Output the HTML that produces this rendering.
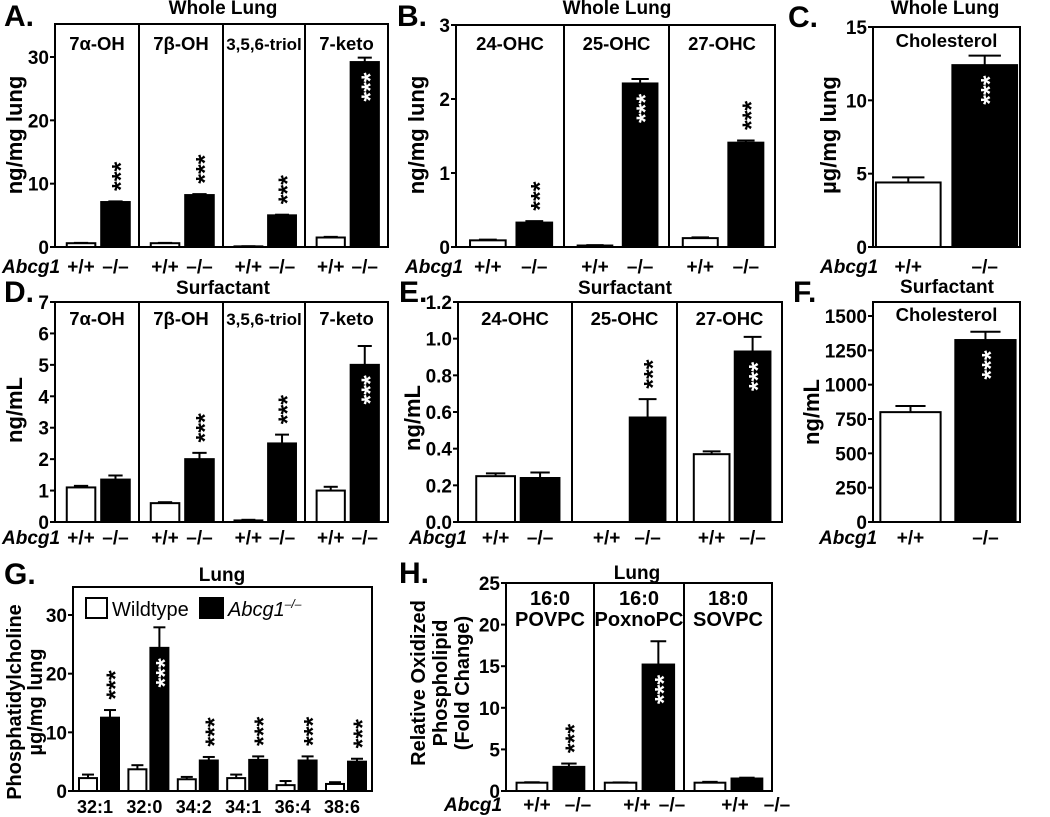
<!DOCTYPE html>
<html><head><meta charset="utf-8">
<style>
html,body{margin:0;padding:0;background:#fff;}
svg{display:block;font-family:"Liberation Sans",Arial,sans-serif;}
</style></head>
<body>
<svg id="fig" width="1050" height="817" viewBox="0 0 1050 817" xmlns="http://www.w3.org/2000/svg"></svg>
<script>
// ---------- DATA ----------
const aCats=['7α-OH','7β-OH','3,5,6-triol','7-keto'];
const aWT=[0.6,0.6,0.1,1.5];
const aWTerr=[0.05,0.05,0.02,0.1];
const aKO=[7.1,8.2,5.0,29.2];
const aKOerr=[0.1,0.15,0.1,0.7];
const aStars=['above','above','above','inside'];
const aTicks=[0,10,20,30];

const bCats=['24-OHC','25-OHC','27-OHC'];
const bWT=[0.09,0.02,0.12];
const bWTerr=[0.01,0.005,0.01];
const bKO=[0.33,2.21,1.41];
const bKOerr=[0.02,0.06,0.03];
const bStars=['above','inside','above'];
const bTicks=[0,1,2,3];

const cCats=['Cholesterol'];
const cWT=[4.4];
const cWTerr=[0.35];
const cKO=[12.4];
const cKOerr=[0.65];
const cStars=['inside'];
const cTicks=[0,5,10,15];

const dCats=['7α-OH','7β-OH','3,5,6-triol','7-keto'];
const dWT=[1.1,0.6,0.05,1.0];
const dWTerr=[0.05,0.03,0.02,0.12];
const dKO=[1.35,2.0,2.5,5.0];
const dKOerr=[0.13,0.2,0.28,0.6];
const dStars=['none','above','above','inside'];
const dTicks=[0,1,2,3,4,5,6,7];

const eCats=['24-OHC','25-OHC','27-OHC'];
const eWT=[0.25,null,0.37];
const eWTerr=[0.015,0,0.015];
const eKO=[0.24,0.57,0.93];
const eKOerr=[0.03,0.1,0.08];
const eStars=['none','above','inside'];
const eTicks=[0,0.2,0.4,0.6,0.8,1.0,1.2];
const eTickLabels=['0.0','0.2','0.4','0.6','0.8','1.0','1.2'];

const fCats=['Cholesterol'];
const fWT=[800];
const fWTerr=[45];
const fKO=[1325];
const fKOerr=[60];
const fStars=['inside'];
const fTicks=[0,250,500,750,1000,1250,1500];

const gCats=['32:1','32:0','34:2','34:1','36:4','38:6'];
const gWT=[2.2,3.7,2.0,2.2,1.0,1.2];
const gWTerr=[0.6,0.7,0.4,0.6,0.7,0.3];
const gKO=[12.5,24.4,5.2,5.3,5.2,5.0];
const gKOerr=[1.3,3.5,0.6,0.6,0.7,0.5];
const gStars=['above','inside','above','above','above','above'];
const gTicks=[0,10,20,30];

const hCats1=['16:0','16:0','18:0'];
const hCats2=['POVPC','PoxnoPC','SOVPC'];
const hWT=[1.0,1.0,1.0];
const hWTerr=[0.05,0.03,0.1];
const hKO=[2.9,15.2,1.5];
const hKOerr=[0.4,2.8,0.1];
const hStars=['above','inside','none'];
const hTicks=[0,5,10,15,20,25];

// ---------- DRAWING ----------
const NS='http://www.w3.org/2000/svg';
const svg=document.getElementById('fig');
function mk(tag,attrs,parent,txt){
  const e=document.createElementNS(NS,tag);
  for(const k in attrs)e.setAttribute(k,attrs[k]);
  if(txt!==undefined)e.textContent=txt;
  (parent||svg).appendChild(e);return e;
}
function txt(x,y,s,size,opts,name,parent){
  opts=opts||{};
  const e=mk('text',{x:x,y:y,'font-size':size,'font-weight':opts.weight||'bold','text-anchor':opts.anchor||'middle',fill:opts.fill||'#000'},parent,s);
  if(opts.italic)e.setAttribute('font-style','italic');
  if(opts.rot)e.setAttribute('transform','rotate(-90 '+x+' '+y+')');
  
  
  return e;
}
function stars(cx,cy,fill,parent){
  const g=mk('g',{transform:'translate('+cx+' '+cy+') rotate(-90)'},parent);
  
  
  mk('text',{x:0,y:14,'font-size':25,'font-weight':'bold','text-anchor':'middle',fill:fill},g,'***');
}

function panel(p){
  const g=mk('g',{});
  
  
  const ax=p.edges[0], right=p.edges[p.edges.length-1];
  const y=v=>p.zeroY-v*(p.zeroY-p.topY)/p.topVal;
  txt(p.letterX,p.letterY,p.letter,30,{anchor:'start'},'panel-letter',g);
  txt(p.titleX,p.titleY,p.title,19,{},'panel-title',g);
  const box=mk('rect',{x:ax,y:p.topY,width:right-ax,height:p.zeroY-p.topY,fill:'none',stroke:'#000','stroke-width':2},g);
  
  
  for(let i=1;i<p.edges.length-1;i++){
    const l=mk('line',{x1:p.edges[i],x2:p.edges[i],y1:p.topY,y2:p.zeroY,stroke:'#000','stroke-width':2},g);
    
    
  }
  p.ticks.forEach((t,i)=>{
    const ty=y(t);
    const l=mk('line',{x1:ax-5,x2:ax,y1:ty,y2:ty,stroke:'#000','stroke-width':2},g);
    
    
    txt(ax-6,ty+7,p.tickLabels?p.tickLabels[i]:String(t),19,{anchor:'end'},'y-tick-label',g);
  });
  p.yTitle.forEach((s,i)=>txt(p.yTitleX[i],p.yTitleY,s,p.yTitleSize||22,{rot:true},'y-axis-title',g));
  p.cats.forEach((c,i)=>{
    const s0=p.edges[i],W=p.edges[i+1]-s0;
    if(p.catY2){
      txt(s0+W/2,p.catY,c,20,{},'section-label',g);
      txt(s0+W/2,p.catY2,p.cats2[i],20,{},'section-label',g);
    } else txt(s0+W/2,p.catY,c,c.indexOf('triol')>=0?17:18.5,{},'section-label',g);
    const defs=[[p.wt,p.wtErr,p.wOff,'#fff','wildtype'],[p.ko,p.koErr,p.kOff,'#000','knockout']];
    defs.forEach((d,j)=>{
      const v=d[0][i];
      const bx=s0+d[2]*W, bw=p.bw*W, cx=bx+bw/2;
      if(v!==null){
        const top=y(v);
        const r=mk('rect',{x:bx,y:top,width:bw,height:p.zeroY-top,fill:d[3],stroke:'#000','stroke-width':2},g);
        
        
        const et=y(v+d[1][i]);
        if(d[1][i]>0){
          const e1=mk('line',{x1:cx,x2:cx,y1:top,y2:et,stroke:'#000','stroke-width':2},g);
          
          
          const e2=mk('line',{x1:cx-bw*0.25,x2:cx+bw*0.25,y1:et,y2:et,stroke:'#000','stroke-width':2},g);
          
          
        }
        if(j===1){
          if(p.stars[i]==='above')stars(cx,et-25,'#000',g);
          else if(p.stars[i]==='inside')stars(cx,top+25,'#fff',g);
        }
      }
      if(p.genoY){
        const lx=p.genoX?p.genoX[i*2+j]:cx;
        txt(lx,p.genoY,j===0?'+/+':'–/–',19,{},'genotype-label',g);
      }
    });
  });
  if(p.genoY)txt(p.abcgX,p.genoY,'Abcg1',19,{anchor:'start',italic:true},'genotype-row-label',g);
}

panel({name:'panel-a',letter:'A.',letterX:4,letterY:26,title:'Whole Lung',titleX:223,titleY:14,
  edges:[55,139,223,305,388],topY:24,zeroY:247,topVal:223/(190/30),ticks:aTicks,
  yTitle:['ng/mg lung'],yTitleX:[22],yTitleY:135,cats:aCats,catY:50,
  wt:aWT,wtErr:aWTerr,ko:aKO,koErr:aKOerr,stars:aStars,wOff:0.14,kOff:0.55,bw:0.34,genoY:273,abcgX:2});
panel({name:'panel-b',letter:'B.',letterX:397,letterY:26,title:'Whole Lung',titleX:617,titleY:14,
  edges:[456,564,669,775],topY:25,zeroY:247,topVal:3,ticks:bTicks,
  yTitle:['ng/mg lung'],yTitleX:[424],yTitleY:135,cats:bCats,catY:50,
  wt:bWT,wtErr:bWTerr,ko:bKO,koErr:bKOerr,stars:bStars,wOff:0.13,kOff:0.56,bw:0.33,genoY:273,abcgX:405});
panel({name:'panel-c',letter:'C.',letterX:788,letterY:27,title:'Whole Lung',titleX:945,titleY:14,
  edges:[873,1020],topY:27,zeroY:247,topVal:15,ticks:cTicks,
  yTitle:['µg/mg lung'],yTitleX:[836],yTitleY:135,cats:cCats,catY:47,
  wt:cWT,wtErr:cWTerr,ko:cKO,koErr:cKOerr,stars:cStars,wOff:0.02,kOff:0.54,bw:0.44,genoY:273,abcgX:820});
panel({name:'panel-d',letter:'D.',letterX:4,letterY:302,title:'Surfactant',titleX:223,titleY:294,
  edges:[55,139,223,305,388],topY:302,zeroY:522,topVal:7,ticks:dTicks,
  yTitle:['ng/mL'],yTitleX:[22],yTitleY:410,cats:dCats,catY:325,
  wt:dWT,wtErr:dWTerr,ko:dKO,koErr:dKOerr,stars:dStars,wOff:0.14,kOff:0.55,bw:0.34,genoY:544,abcgX:2});
panel({name:'panel-e',letter:'E.',letterX:399,letterY:302,title:'Surfactant',titleX:625,titleY:294,
  edges:[458,572,677,782],topY:302,zeroY:522,topVal:1.2,ticks:eTicks,tickLabels:eTickLabels,
  yTitle:['ng/mL'],yTitleX:[420],yTitleY:418,cats:eCats,catY:325,
  wt:eWT,wtErr:eWTerr,ko:eKO,koErr:eKOerr,stars:eStars,wOff:0.16,kOff:0.55,bw:0.34,genoY:544,abcgX:409});
panel({name:'panel-f',letter:'F.',letterX:793,letterY:302,title:'Surfactant',titleX:947,titleY:293,
  edges:[873,1020],topY:302,zeroY:522,topVal:220/(206/1500),ticks:fTicks,
  yTitle:['ng/mL'],yTitleX:[819],yTitleY:412,cats:fCats,catY:321,
  wt:fWT,wtErr:fWTerr,ko:fKO,koErr:fKOerr,stars:fStars,wOff:0.05,kOff:0.56,bw:0.41,genoY:544,abcgX:819});
panel({name:'panel-h',letter:'H.',letterX:399,letterY:583,title:'Lung',titleX:637,titleY:579,
  edges:[506,594,684,772],topY:583,zeroY:791,topVal:25,ticks:hTicks,yTitleSize:20,
  yTitle:['Relative Oxidized','Phospholipid','(Fold Change)'],yTitleX:[425,447,469],yTitleY:683,
  cats:hCats1,cats2:hCats2,catY:605,catY2:626,
  wt:hWT,wtErr:hWTerr,ko:hKO,koErr:hKOerr,stars:hStars,wOff:0.12,kOff:0.54,bw:0.35,genoY:811,abcgX:444,
  genoX:[537,578,637,672,735,777]});

// ---------- Panel G ----------
(function(){
  const g=mk('g',{});
  
  
  const ax=73,right=372,topY=587,zeroY=791,pu=176/30;
  const y=v=>zeroY-v*pu;
  const x0=99,step=49.4,bw=18;
  txt(4,584,'G.',30,{anchor:'start'},'panel-letter',g);
  txt(222,581,'Lung',19,{},'panel-title',g);
  const box=mk('rect',{x:ax,y:topY,width:right-ax,height:zeroY-topY,fill:'none',stroke:'#000','stroke-width':2},g);
  
  
  gTicks.forEach(t=>{
    const ty=y(t);
    const l=mk('line',{x1:ax-5,x2:ax,y1:ty,y2:ty,stroke:'#000','stroke-width':2},g);
    
    
    txt(ax-6,ty+7,String(t),19,{anchor:'end'},'y-tick-label',g);
  });
  txt(21,702,'Phosphatidylcholine',20,{rot:true},'y-axis-title',g);
  txt(42,702,'µg/mg lung',20,{rot:true},'y-axis-title',g);
  gCats.forEach((c,i)=>{
    const cx=x0+i*step;
    txt(cx-4,813,c,18,{},'x-tick-label',g);
    [[gWT,gWTerr,cx-20,'#fff','wildtype'],[gKO,gKOerr,cx+2,'#000','knockout']].forEach((d,j)=>{
      const v=d[0][i],top=y(v),bx=d[2],bc=bx+bw/2,et=y(v+d[1][i]);
      const r=mk('rect',{x:bx,y:top,width:bw,height:zeroY-top,fill:d[3],stroke:'#000','stroke-width':2},g);
      
      
      const e1=mk('line',{x1:bc,x2:bc,y1:top,y2:et,stroke:'#000','stroke-width':2},g);
      
      
      const e2=mk('line',{x1:bc-6,x2:bc+6,y1:et,y2:et,stroke:'#000','stroke-width':2},g);
      
      
      if(j===1){
        if(gStars[i]==='above')stars(bc,et-25,'#000',g);
        else if(gStars[i]==='inside')stars(bc,top+25,'#fff',g);
      }
    });
  });
  const lg=mk('g',{},g);
  
  
  const s1=mk('rect',{x:86,y:598,width:21,height:20,fill:'#fff',stroke:'#000','stroke-width':2},lg);
  
  
  txt(112,616,'Wildtype',20,{anchor:'start',weight:'normal'},'legend-entry-wildtype',lg);
  const s2=mk('rect',{x:200,y:598,width:23,height:20,fill:'#000',stroke:'#000','stroke-width':2},lg);
  
  
  const t=txt(228,616,'Abcg1',20,{anchor:'start',weight:'normal',italic:true},'legend-entry-knockout',lg);
  mk('tspan',{'font-size':12,dy:-8},t,'–/–');
})();
</script>
</body></html>
